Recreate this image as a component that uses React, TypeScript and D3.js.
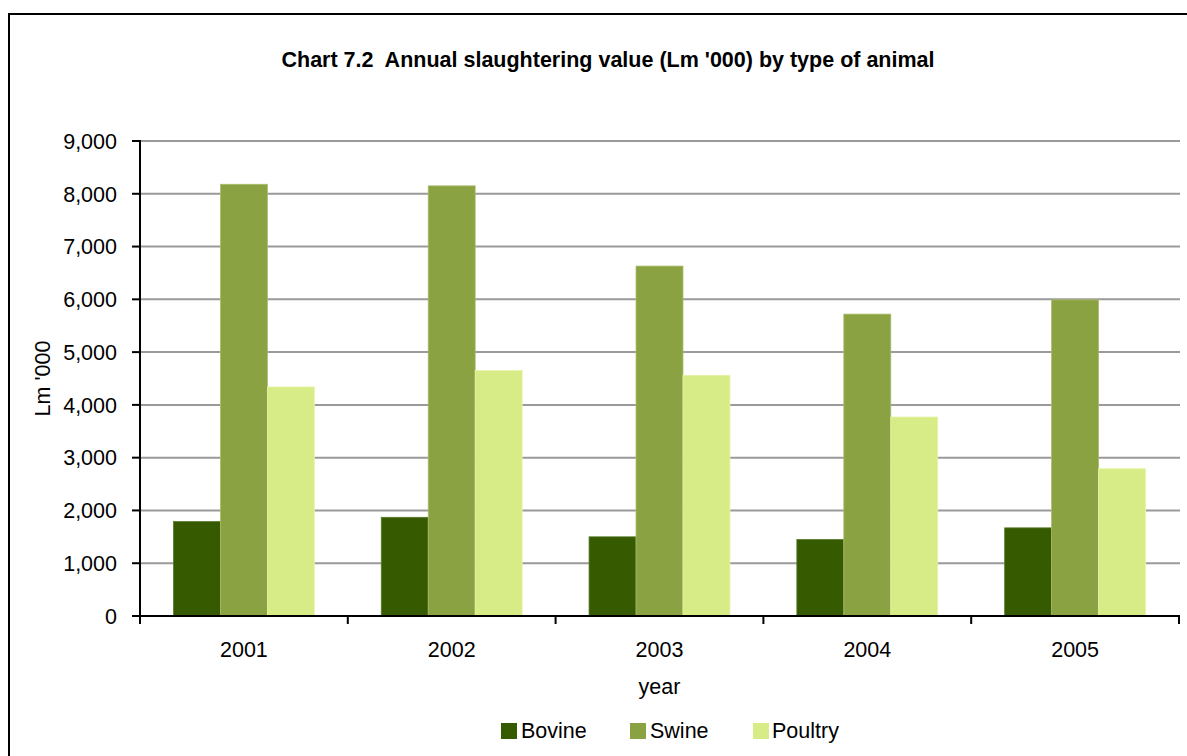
import React from "react";
import * as d3 from "d3";

const years = ["2001", "2002", "2003", "2004", "2005"];
const seriesNames = ["Bovine", "Swine", "Poultry"];
const bovine = [1790, 1870, 1500, 1450, 1670];
const swine = [8180, 8150, 6630, 5720, 5990];
const poultry = [4340, 4650, 4560, 3770, 2790];
const yTicks = [0, 1000, 2000, 3000, 4000, 5000, 6000, 7000, 8000, 9000];
const colors = ["#355a00", "#8ba242", "#d7eb86"];
const strokes = ["#5a7a2a", "#a9bd6c", "#e6f4aa"];

const FONT = "'Liberation Sans', Arial, sans-serif";

export default function App() {
  const W = 1187, H = 756;
  const left = 140, right = 1179, top = 141, bottom = 616;
  const values = [bovine, swine, poultry];

  const x0 = d3.scaleBand<string>().domain(years).range([left, right]).padding(0);
  const bw = x0.bandwidth();
  const side = bw * 0.161;
  const x1 = d3.scaleBand<string>().domain(seriesNames).range([side, bw - side]).padding(0);
  const y = d3.scaleLinear().domain([0, 9000]).range([bottom, top]);
  const fmt = d3.format(",");

  const boundaries = years.map((yr) => x0(yr) as number).concat([right]);

  const legendItems = [
    { name: "Bovine", sx: 501, tx: 521 },
    { name: "Swine", sx: 630, tx: 650 },
    { name: "Poultry", sx: 753, tx: 772 },
  ];

  return (
    <svg
      width={W}
      height={H}
      style={{ position: "absolute", left: 0, top: 0, background: "#fff" }}
      fontFamily={FONT}
    >
      <rect x={0} y={0} width={W} height={H} fill="#fff" />
      <rect x={9} y={14} width={W + 10} height={H + 10} fill="none" stroke="#000" strokeWidth={2} />

      <text x={608} y={67} textAnchor="middle" fontWeight="bold" fontSize={21.5} fill="#000" style={{ whiteSpace: "pre" }}>
        {"Chart 7.2  Annual slaughtering value (Lm '000) by type of animal"}
      </text>

      {/* gridlines */}
      {yTicks.filter((t) => t > 0).map((t) => (
        <line key={"g" + t} x1={left} x2={right + 1} y1={y(t)} y2={y(t)} stroke="#9a9a9a" strokeWidth={2} />
      ))}

      {/* bars */}
      {values.map((vals, si) =>
        vals.map((v, i) => {
          const xx = (x0(years[i]) as number) + (x1(seriesNames[si]) as number);
          return (
            <rect
              key={si + "-" + i}
              x={xx}
              y={y(v)}
              width={x1.bandwidth()}
              height={bottom - y(v)}
              fill={colors[si]}
              stroke={strokes[si]}
              strokeWidth={0.8}
            />
          );
        })
      )}

      {/* y axis */}
      <line x1={left} x2={left} y1={top - 1} y2={bottom + 1} stroke="#000" strokeWidth={2} />
      {yTicks.map((t) => (
        <g key={"yt" + t}>
          <line x1={left - 8} x2={left} y1={y(t)} y2={y(t)} stroke="#000" strokeWidth={2} />
          <text x={117} y={y(t)} dy="0.36em" textAnchor="end" fontSize={21.5} fill="#000">
            {fmt(t)}
          </text>
        </g>
      ))}

      {/* x axis */}
      <line x1={left - 8} x2={right + 1} y1={bottom} y2={bottom} stroke="#000" strokeWidth={2} />
      {boundaries.map((bx, i) => (
        <line key={"xt" + i} x1={bx} x2={bx} y1={bottom} y2={bottom + 8} stroke="#000" strokeWidth={2} />
      ))}
      {years.map((yr) => (
        <text key={"xl" + yr} x={(x0(yr) as number) + bw / 2} y={657} textAnchor="middle" fontSize={21.5} fill="#000">
          {yr}
        </text>
      ))}

      <text x={(left + right) / 2} y={694} textAnchor="middle" fontSize={21.5} fill="#000">
        year
      </text>
      <text
        transform={`translate(50, ${(top + bottom) / 2}) rotate(-90)`}
        textAnchor="middle"
        fontSize={21.5}
        fill="#000"
      >
        Lm '000
      </text>

      {/* legend */}
      {legendItems.map((it, i) => (
        <g key={"lg" + it.name}>
          <rect x={it.sx} y={723} width={16} height={16} fill={colors[i]} />
          <text x={it.tx} y={738} fontSize={21.5} fill="#000">
            {it.name}
          </text>
        </g>
      ))}
    </svg>
  );
}
